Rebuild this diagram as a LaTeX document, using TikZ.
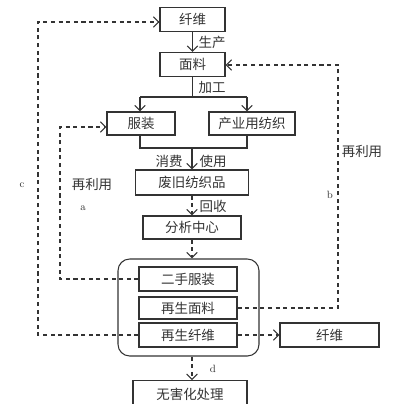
\documentclass[tikz,border=0pt]{standalone}
\usepackage{fontspec}
\newfontfamily\cjk{Noto Sans CJK SC}
\usetikzlibrary{arrows.meta}

\begin{document}
\begin{tikzpicture}[x=0.03cm,y=-0.03cm,color=black!80,
  box/.style={draw,line width=0.9pt,inner sep=0pt,minimum height=0.72cm,
    font=\cjk\fontsize{11.5}{13}\selectfont},
  lbl/.style={inner sep=1pt,font=\cjk\fontsize{11.5}{13}\selectfont},
  tag/.style={inner sep=0pt,font=\fontsize{9}{10}\selectfont},
  arr/.style={-{Straight Barb[length=4.5pt,width=9pt,line width=0.9pt]}},
  dsh/.style={dash pattern=on 3.5pt off 3pt,line width=0.9pt}]
  \clip (0,0) rectangle (400,404);
  % main chain
  \node[box,minimum width=1.95cm] (fib) at (192.5,19.5) {纤维};
  \node[box,minimum width=1.95cm] (fab) at (192.5,64.5) {面料};
  \node[box,minimum width=2.04cm,minimum height=0.69cm] (clo) at (141,123.5) {服装};
  \node[box,minimum width=2.58cm,minimum height=0.69cm] (ind) at (252,123.5) {产业用纺织};
  \node[box,minimum width=3.39cm,minimum height=0.75cm] (waste) at (192,182.5) {废旧纺织品};
  \node[box,minimum width=2.94cm,minimum height=0.69cm] (ana) at (192,227.5) {分析中心};
  \node[draw,line width=0.9pt,rounded corners=10pt,minimum width=4.23cm,
    minimum height=2.91cm] (cont) at (188.5,307.5) {};
  \node[box,minimum width=2.94cm] (sec) at (188,279) {二手服装};
  \node[box,minimum width=2.94cm,minimum height=0.66cm] (rfab) at (188,308) {再生面料};
  \node[box,minimum width=2.94cm] (rfib) at (188,335) {再生纤维};
  \node[box,minimum width=2.97cm] (fib2) at (329.5,335) {纤维};
  \node[box,minimum width=3.42cm,minimum height=0.84cm,anchor=north] (harm) at (190,380) {无害化处理};

  \draw[arr,line width=0.9pt] (fib) -- (fab);
  \node[lbl] (prod) at (212,42) {生产};

  % split to products
  \coordinate (split) at (192.5,97);
  \coordinate (sl) at (140,97);
  \coordinate (sr) at (247,97);
  \draw[line width=0.6pt] (fab) -- (split);
  \draw[line width=0.9pt] (sl) -- (sr);
  \draw[arr,line width=0.9pt] (sl) -- (sl |- clo.north);
  \draw[arr,line width=0.9pt] (sr) -- (sr |- ind.north);
  \node[lbl] (proc) at (212,87) {加工};

  % merge to waste
  \coordinate (ml) at (140,148);
  \coordinate (mr) at (247,148);
  \coordinate (mc) at (192,148);
  \draw[line width=0.9pt] (ml |- clo.south) -- (ml) -- (mr) -- (mr |- ind.south);
  \draw[arr,line width=0.9pt] (mc) -- (mc |- waste.north);
  \node[lbl] (cons) at (169,161) {消费};
  \node[lbl] (use) at (213,161) {使用};

  \draw[arr,dsh] (waste) -- (ana);
  \node[lbl] (coll) at (213,206) {回收};
  \draw[arr,dsh] (ana.south) -- (ana.south |- cont.north);
  \draw[arr,dsh] (ana.south |- cont.south) -- (ana.south |- harm.north);
  \node[tag] (d) at (213,369) {d};

  % reuse loops
  \coordinate (aT) at (60,127);
  \coordinate (bT) at (338,65);
  \coordinate (cT) at (38,22);
  \draw[arr,dsh] (sec.west) -| (aT) -- (aT -| clo.west);
  \draw[arr,dsh] (rfab.east) -| (bT) -- (bT -| fab.east);
  \draw[arr,dsh] (rfib.west) -| (cT) -- (cT -| fib.west);
  \draw[arr,dsh] (rfib) -- (fib2);
  \node[lbl] (reA) at (92,184) {再利用};
  \node[tag] (a) at (83,208) {a};
  \node[lbl] (reB) at (362,151) {再利用};
  \node[tag] (b) at (330,195) {b};
  \node[tag] (c) at (22,185) {c};
\end{tikzpicture}
\end{document}
